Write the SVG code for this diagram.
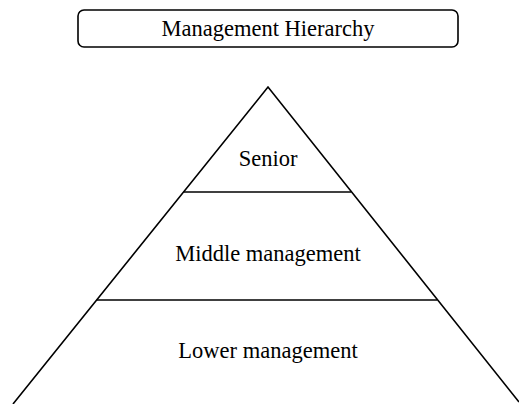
<svg xmlns="http://www.w3.org/2000/svg" width="519" height="404" viewBox="0 0 519 404">
<style>
.t{font-family:"Liberation Serif","Times New Roman",serif;font-size:22.5px;fill:#000;text-anchor:middle}
.s{fill:none;stroke:#000;stroke-width:1.6}
</style>
<rect width="519" height="404" fill="#fff"/>
<g id="title">
<rect class="s" x="78" y="10" width="380" height="37" rx="6"/>
<text class="t" x="268" y="36">Management Hierarchy</text>
</g>
<g id="pyramid">
<polyline class="s" points="13,404 268,87 519,402"/>
</g>
<g id="connectors">
<line class="s" x1="183.6" y1="192" x2="351" y2="192"/>
<line class="s" x1="96.7" y1="300" x2="437" y2="300"/>
</g>
<g id="senior"><text class="t" x="268" y="166">Senior</text></g>
<g id="middle"><text class="t" x="268" y="261">Middle management</text></g>
<g id="lower"><text class="t" x="268" y="358">Lower management</text></g>
</svg>
